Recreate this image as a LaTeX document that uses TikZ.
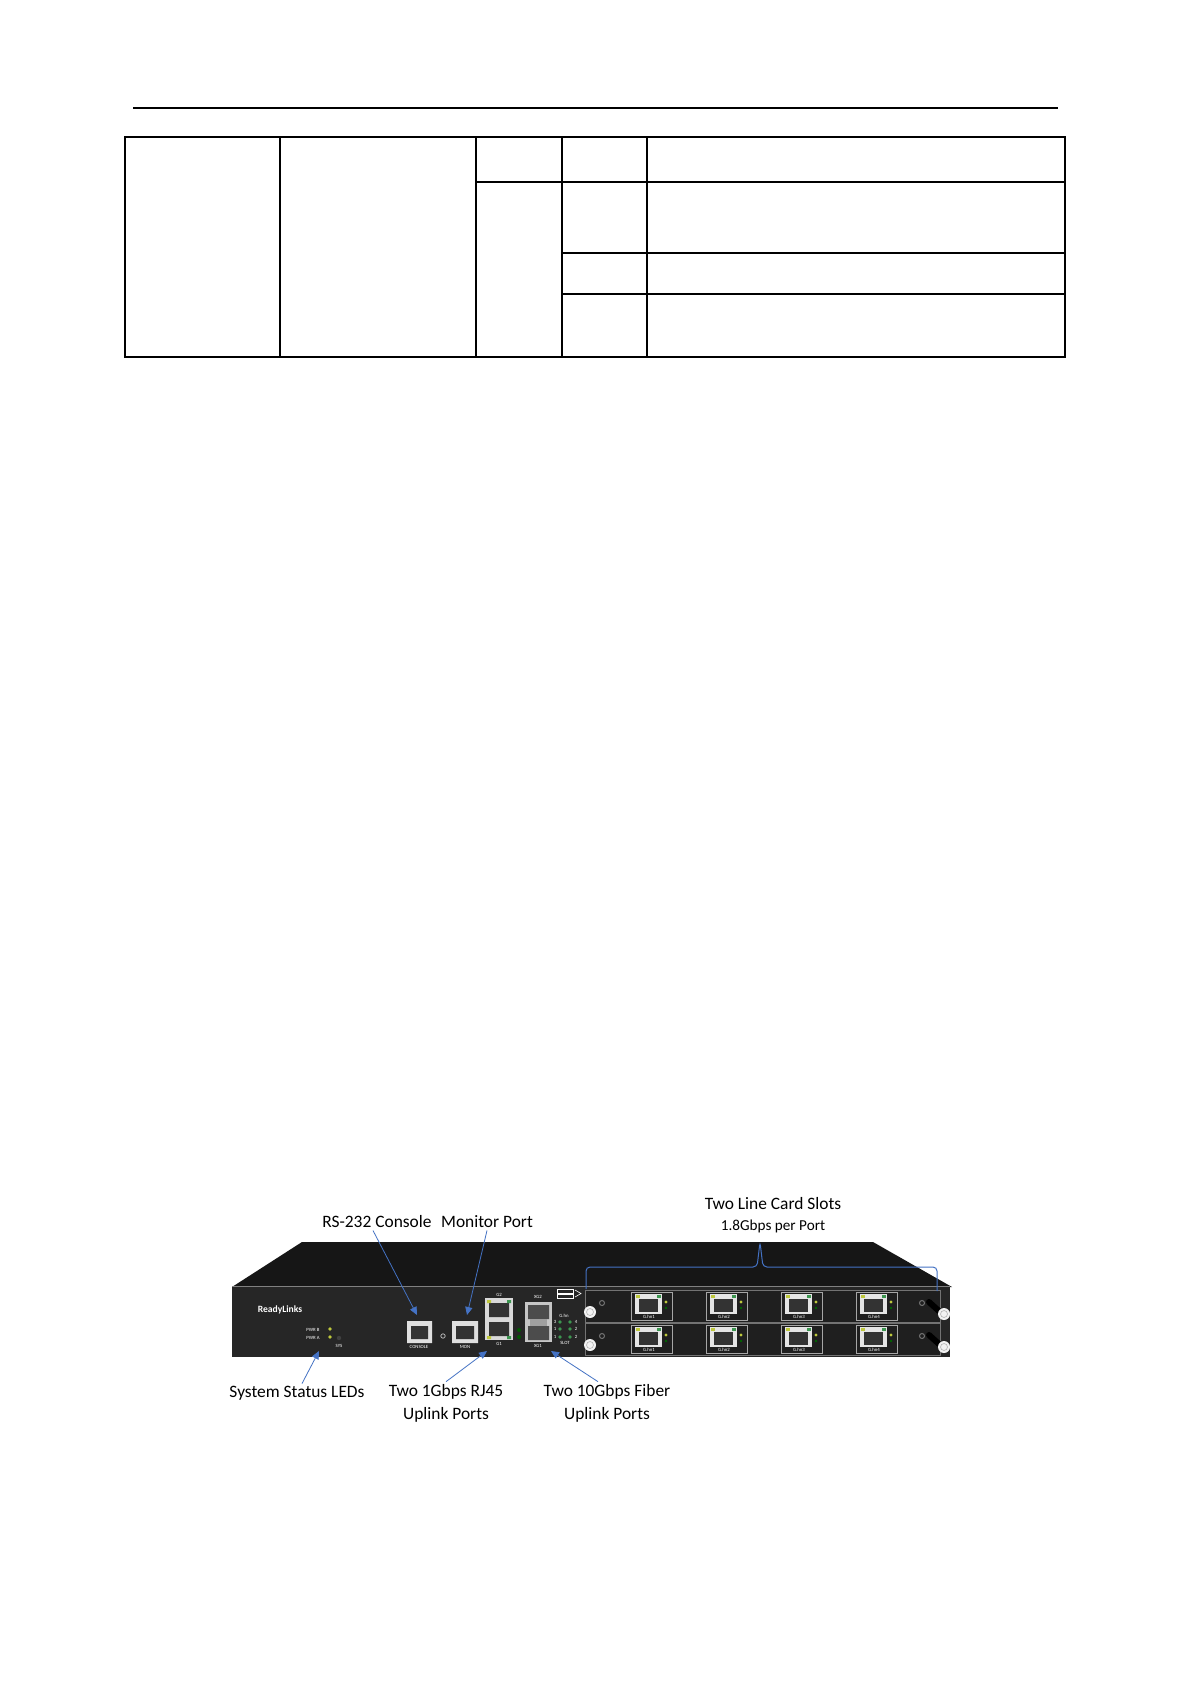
\documentclass[tikz,border=0pt]{standalone}
\usepackage{fontspec}
\setmainfont{Carlito}
\usepackage{tikz}
\usetikzlibrary{arrows.meta}
\definecolor{callblue}{RGB}{68,114,196}
\definecolor{panel}{RGB}{38,38,38}
\definecolor{lid}{RGB}{22,22,22}
\definecolor{ledy}{RGB}{190,200,60}
\definecolor{ledg}{RGB}{60,150,80}

\begin{document}
\begin{tikzpicture}[x=0.5pt,y=-0.5pt,
  callout/.style={callblue,line width=0.4pt,-{Triangle[length=4pt,width=3.6pt]}},
  lbl/.style={font=\fontsize{8.7}{11.5}\selectfont,align=center,inner sep=1pt},
  tiny/.style={white,font=\fontsize{2.4}{2.6}\selectfont,inner sep=0pt}]
\useasboundingbox (0,0) rectangle (1191,1684);
\fill[white] (0,0) rectangle (1191,1684);
% header rule and table
\draw[line width=0.6pt] (133,108) -- (1058,108);
\draw[line width=0.7pt] (125,137) rectangle (1065,357);
\draw[line width=0.7pt] (280,137) -- (280,357) (476,137) -- (476,357) (562,137) -- (562,357) (647,137) -- (647,357);
\draw[line width=0.7pt] (476,182) -- (1065,182) (562,253) -- (1065,253) (562,294) -- (1065,294);

% chassis
\fill[lid] (232,1287) -- (302,1242) -- (873,1242) -- (952,1287) -- cycle;
\fill[panel] (232,1286) rectangle (950,1357);
\draw[black!50,line width=0.3pt] (232,1286) -- (950,1286);
\node[white,font=\fontsize{4.8}{5}\selectfont\bfseries,inner sep=0pt] (logo) at (280,1310) {ReadyLinks};
% status leds
\node[tiny] at (313,1330) {PWR B};
\node[tiny] at (313,1338) {PWR A};
\node[tiny] at (339,1346) {SYS};
\fill[ledy] (330,1329) circle (1.8) (330,1337) circle (1.8);
\fill[black!75] (339,1338) circle (2.2);
% console and monitor
\fill[gray!25] (407,1321) rectangle (432,1343) (452,1321) rectangle (478,1343);
\fill[black!80] (411,1326) rectangle (428,1339) (456,1326) rectangle (474,1339);
\node[tiny] at (419,1347) {CONSOLE};
\node[tiny] at (465,1347) {MON};
\draw[gray!60,line width=0.4pt] (443,1336) circle (2.2);
% 1G uplinks
\fill[gray!30] (485,1298) rectangle (513,1340);
\fill[black!80] (489,1303) rectangle (509,1317) (489,1322) rectangle (509,1336);
\fill[ledy] (487,1300) rectangle (491,1303) (487,1336) rectangle (491,1339);
\fill[ledg] (507,1300) rectangle (511,1303) (507,1336) rectangle (511,1339);
\node[tiny] at (499,1295) {G2};
\node[tiny] at (499,1344) {G1};
\fill[green!35!black] (519,1330) circle (2) (519,1337) circle (2);
% 10G uplinks
\fill[gray!45] (525,1302) rectangle (552,1342);
\fill[black!70] (528,1305) rectangle (549,1319) (528,1326) rectangle (549,1340);
\fill[gray!75] (530,1319) rectangle (547,1326);
\node[tiny] at (538,1297) {XG2};
\node[tiny] at (538,1346) {XG1};
% slot leds
\foreach \x in {560,570} \foreach \y in {1322,1329,1337} \fill[ledg] (\x,\y) circle (1.8);
\node[tiny] at (564,1316) {G.hn};
\node[tiny] at (565,1343) {SLOT};
\node[tiny] at (555,1322) {3};
\node[tiny] at (555,1329) {1};
\node[tiny] at (555,1337) {1};
\node[tiny] at (576,1322) {4};
\node[tiny] at (576,1329) {2};
\node[tiny] at (576,1337) {2};
\draw[white,line width=0.3pt] (557,1289) rectangle (573,1293) (557,1294) rectangle (573,1298);
\draw[white,line width=0.3pt] (575,1290) -- (581,1293.5) -- (575,1297);

% line cards
\foreach \y in {1290,1323} {
  \fill[black!88] (585,\y) rectangle (940,\y+32);
  \draw[black!55,line width=0.3pt] (585,\y) rectangle (940,\y+32);
  \fill[gray!10] (590,\y+22) circle (6);
  \draw[gray!60,line width=0.3pt] (590,\y+22) circle (3.5);
  \draw[black!55,line width=0.5pt] (602,\y+13) circle (2.5) (922,\y+13) circle (2.5);
  \draw[black,line width=3pt,line cap=round] (929,\y+12) -- (939,\y+21);
  \fill[gray!10] (944,\y+24) circle (6);
  \draw[gray!60,line width=0.3pt] (944,\y+24) circle (3.5);
  \foreach \x [count=\n] in {631,706,781,856} {
    \draw[gray!70,line width=0.4pt] (\x,\y+2) rectangle (\x+41,\y+30);
    \fill[gray!20] (\x+4,\y+4) rectangle (\x+31,\y+24);
    \fill[black!80] (\x+8,\y+9) rectangle (\x+27,\y+22);
    \fill[ledy] (\x+5,\y+5) rectangle (\x+9,\y+8);
    \fill[ledg] (\x+26,\y+5) rectangle (\x+30,\y+8);
    \fill[ledy] (\x+35,\y+12) circle (1.6);
    \fill[green!40!black] (\x+35,\y+18) circle (1.3);
    \node[tiny] at (\x+18,\y+27) {G.hn\n};
  }
}

% labels
\node[lbl] (rs) at (377,1222) {RS-232 Console};
\node[lbl] (mon) at (487,1222) {Monitor Port};
\node[lbl] (slots) at (773,1204) {Two Line Card Slots};
\node[lbl,font=\fontsize{7.6}{9}\selectfont] (gbps) at (773,1226) {1.8Gbps per Port};
\node[lbl] (leds) at (297,1393) {System Status LEDs};
\node[lbl] (rj) at (446,1403) {Two 1Gbps RJ45\\Uplink Ports};
\node[lbl] (fib) at (607,1403) {Two 10Gbps Fiber\\Uplink Ports};

\coordinate (conTip) at (417,1315);
\coordinate (monTip) at (467,1315);
\coordinate (ledTip) at (319,1351);
\coordinate (gTip) at (487,1351);
\coordinate (xgTip) at (551,1351);
\draw[callout] ([xshift=-2pt]rs.south) -- (conTip);
\draw[callout] (mon.south) -- (monTip);
\draw[callout] ([xshift=2.5pt]leds.north) -- (ledTip);
\draw[callout] (rj.north) -- (gTip);
\draw[callout] ([xshift=-4.5pt]fib.north) -- (xgTip);
\draw[callblue,line width=0.5pt,rounded corners=2pt] (586,1289) -- (586,1267) -- (757,1267) -- (760,1242) -- (763,1267) -- (937,1267) -- (937,1291);
\end{tikzpicture}
\end{document}
